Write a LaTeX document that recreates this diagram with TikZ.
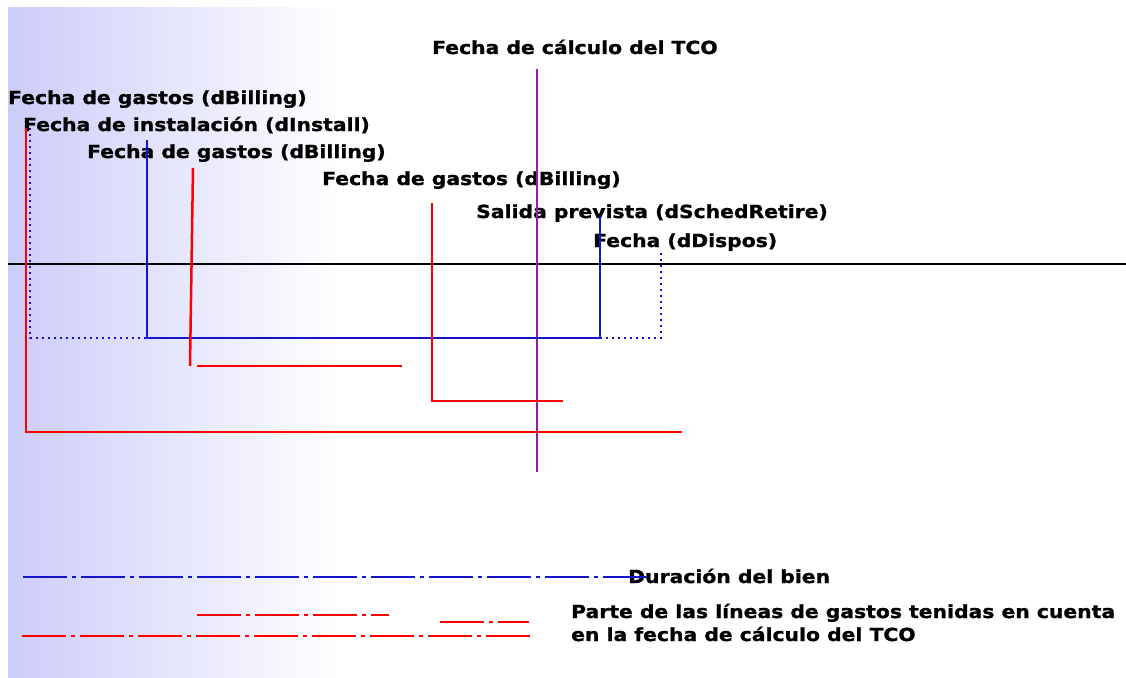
\documentclass[tikz,border=0pt]{standalone}
\usepackage{fontspec}
\newfontfamily\lblfont{DejaVu Sans}[FakeStretch=1.13,BoldFeatures={FakeBold=1.2}]
\usetikzlibrary{positioning}
\definecolor{bgblue}{RGB}{204,204,250}
\definecolor{tcopurple}{RGB}{150,30,165}
\definecolor{assetblue}{RGB}{20,20,205}

\begin{document}
\begin{tikzpicture}[x=1pt,y=-1pt,
  lbl/.style={anchor=base west,inner sep=0pt,font=\lblfont\bfseries\fontsize{18}{22}\selectfont},
  billing/.style={red,line width=2.5pt},
  asset/.style={assetblue,line width=2.5pt},
  assetdot/.style={asset,dash pattern=on 2pt off 4pt},
  legline/.style={line width=2.5pt,dash pattern=on 44pt off 5pt on 4pt off 5pt}]
\useasboundingbox (0,0) rectangle (1126,677);
\shade[left color=bgblue,right color=white] (8,8) rectangle (340,677);

% time axis
\coordinate (axisL) at (8,264);
\coordinate (axisR) at (1126,264);
\draw[line width=2.5pt] (axisL) -- (axisR);

% labels
\node[lbl] (tco)      at (432,54)  {Fecha de cálculo del TCO};
\node[lbl] (billA)    at (8,104)   {Fecha de gastos (dBilling)};
\node[lbl] (install)  at (23,131)  {Fecha de instalación (dInstall)};
\node[lbl] (billB)    at (87,158)  {Fecha de gastos (dBilling)};
\node[lbl] (billC)    at (322,185) {Fecha de gastos (dBilling)};
\node[lbl] (retire)   at (476,218) {Salida prevista (dSchedRetire)};
\node[lbl] (dispos)   at (593,247) {Fecha (dDispos)};

% calculation date
\coordinate (tcoTop) at (537,69);
\coordinate (tcoBot) at (537,472);
\draw[tcopurple,line width=2.5pt] (tcoTop) -- (tcoBot);

% first expense line
\coordinate (eA1) at (26,128);
\coordinate (eA2) at (26,432);
\coordinate (eA3) at (682,432);
\draw[billing] (eA1) -- (eA2) -- (eA3);

% asset life
\coordinate (aS1) at (30,128);
\coordinate (aS2) at (30,338);
\coordinate (aI1) at (147,140);
\coordinate (aI2) at (147,338);
\coordinate (aR1) at (600,338);
\coordinate (aR2) at (600,216);
\coordinate (aD1) at (661,338);
\coordinate (aD2) at (661,250);
\draw[assetdot] (aS1) -- (aS2) -- (aI2);
\draw[asset] (aI1) -- (aI2) -- (aR1) -- (aR2);
\draw[assetdot] (aR1) -- (aD1) -- (aD2);

% second expense line
\coordinate (eB1) at (193,168);
\coordinate (eB2) at (190,366);
\coordinate (eB3) at (197,366);
\coordinate (eB4) at (402,366);
\draw[billing] (eB1) -- (eB2);
\draw[billing] (eB3) -- (eB4);

% third expense line
\coordinate (eC1) at (432,203);
\coordinate (eC2) at (432,401);
\coordinate (eC3) at (563,401);
\draw[billing] (eC1) -- (eC2) -- (eC3);

% legend
\node[lbl] (legLife) at (628,583) {Duración del bien};
\node[lbl] (legPart) at (571,618) {Parte de las líneas de gastos tenidas en cuenta};
\node[lbl] (legPart2) at (571,641) {en la fecha de cálculo del TCO};
\coordinate (lgA1) at (23,577);
\coordinate (lgA2) at (650,577);
\draw[legline,assetblue] (lgA1) -- (lgA2);
\coordinate (lgB1) at (197,615);
\coordinate (lgB2) at (389,615);
\coordinate (lgC1) at (440,622);
\coordinate (lgC2) at (529,622);
\coordinate (lgD1) at (22,636);
\coordinate (lgD2) at (532,636);
\draw[legline,red] (lgB1) -- (lgB2);
\draw[legline,red] (lgC1) -- (lgC2);
\draw[legline,red] (lgD1) -- (lgD2);
\end{tikzpicture}
\end{document}
